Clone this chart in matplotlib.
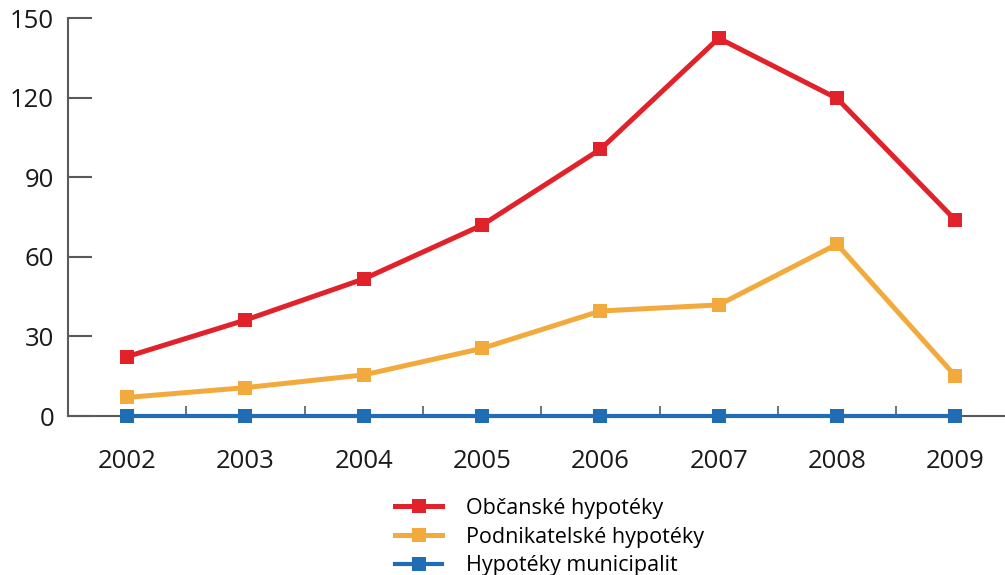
import matplotlib
matplotlib.use("Agg")
import matplotlib.pyplot as plt
from matplotlib.ticker import FixedLocator, NullFormatter

years = [2002, 2003, 2004, 2005, 2006, 2007, 2008, 2009]
obcanske = [22.4, 36.2, 51.7, 72.0, 100.6, 142.5, 119.8, 73.9]
podnikatelske = [7.0, 10.7, 15.5, 25.5, 39.6, 41.9, 64.8, 15.1]
municipalit = [0, 0, 0, 0, 0, 0, 0, 0]
labels = ["Občanské hypotéky", "Podnikatelské hypotéky", "Hypotéky municipalit"]
y_ticks = [0, 30, 60, 90, 120, 150]

plt.rcParams['font.family'] = ['Open Sans', 'DejaVu Sans']

fig = plt.figure(figsize=(10.05, 5.75), dpi=100)
ax = fig.add_axes([68 / 1005, 159 / 575, (1005 - 68) / 1005, (416 - 18.3) / 575])

axis_color = "#5a5a5a"
series = [
    (obcanske, "#E2222A", 3.6),
    (podnikatelske, "#F3AA3C", 3.6),
    (municipalit, "#1F6DB4", 3.0),
]
handles = []
for vals, col, lw in series:
    h, = ax.plot(years, vals, color=col, lw=lw, marker="s", markersize=10,
                 markeredgewidth=0, zorder=3, clip_on=False)
    handles.append(h)

ax.set_xlim(2001.5, 2009.42)
ax.set_ylim(0, 150)

for s in ["top", "right"]:
    ax.spines[s].set_visible(False)
for s in ["left", "bottom"]:
    ax.spines[s].set_color(axis_color)
    ax.spines[s].set_linewidth(1.5)

ax.set_yticks(y_ticks)
ax.tick_params(axis="y", direction="in", length=17, width=1.5, color=axis_color,
               labelsize=18.5, pad=10, labelcolor="#1a1a1a")

# category labels at the years, small ticks at the boundaries between them
ax.xaxis.set_major_locator(FixedLocator([y + 0.5 for y in years[:-1]]))
ax.xaxis.set_major_formatter(NullFormatter())
ax.xaxis.set_minor_locator(FixedLocator(years))
ax.set_xticklabels([str(y) for y in years], minor=True)
ax.tick_params(axis="x", which="major", direction="in", length=7, width=1.2,
               color=axis_color)
ax.tick_params(axis="x", which="minor", length=0, labelsize=18.5, pad=24,
               labelcolor="#1a1a1a")

fig.legend(handles, labels, loc="upper left", bbox_to_anchor=(395 / 1005, 1 - 498 / 575),
           frameon=False, fontsize=15.5, handlelength=2.2, handletextpad=1.1,
           labelspacing=0.36, borderaxespad=0, borderpad=0)

fig.savefig("out.png", dpi=100, facecolor="white")
